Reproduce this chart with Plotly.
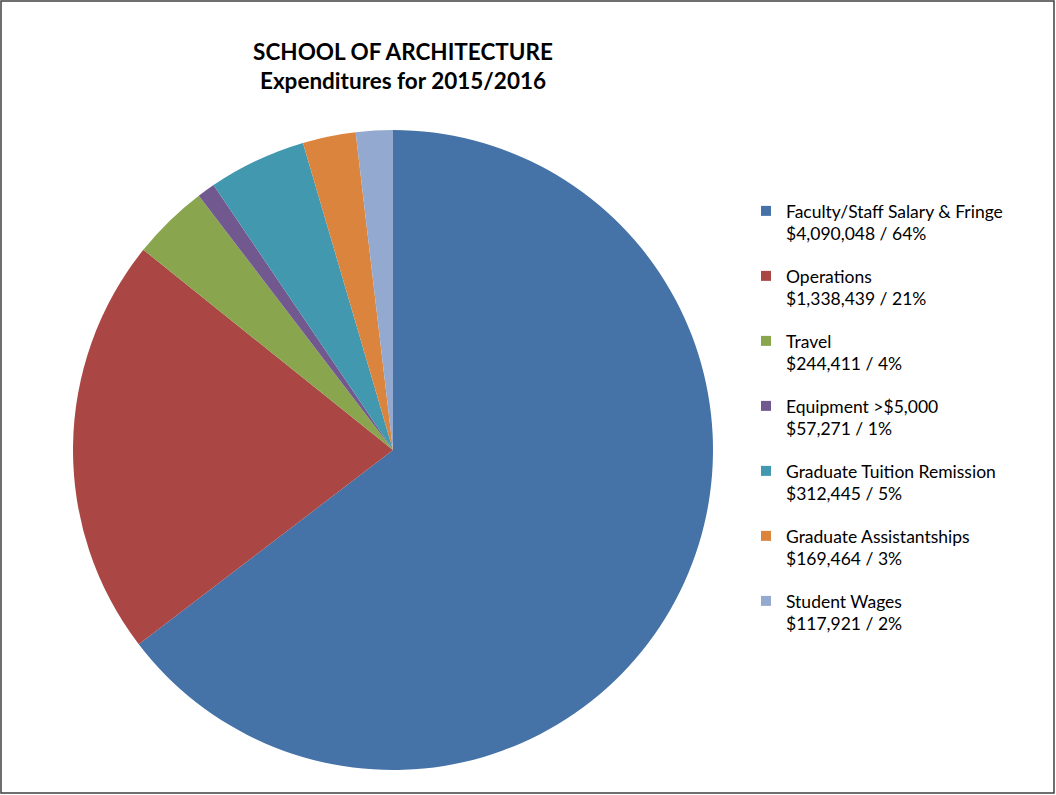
import plotly.graph_objects as go

categories = ["Faculty/Staff Salary & Fringe", "Operations", "Travel", "Equipment >$5,000",
              "Graduate Tuition Remission", "Graduate Assistantships", "Student Wages"]
values = [4090048, 1338439, 244411, 57271, 312445, 169464, 117921]
percents = ["64%", "21%", "4%", "1%", "5%", "3%", "2%"]
colors = ["#4572A7", "#AA4643", "#89A54E", "#71588F", "#4198AF", "#DB843D", "#93A9CF"]

labels = [f"{c}<br>${v:,} / {p}" for c, v, p in zip(categories, values, percents)]

W, H = 1056, 795
fig = go.Figure()
fig.add_trace(go.Pie(
    labels=categories, values=values, sort=False, direction="clockwise", rotation=0,
    marker=dict(colors=colors, line=dict(width=0)),
    textinfo="none", hoverinfo="label+value+percent", showlegend=False,
    domain=dict(x=[73 / W, 713 / W], y=[1 - 770 / H, 1 - 130 / H]),
))
# legend entries (one group per category so the group gap spaces them)
for lab, col in zip(labels, colors):
    fig.add_trace(go.Scatter(
        x=[None], y=[None], mode="markers", name=lab, legendgroup=lab,
        marker=dict(symbol="square", size=10, color=col), hoverinfo="skip",
    ))

fig.update_layout(
    width=W, height=H, margin=dict(l=0, r=0, t=0, b=0),
    paper_bgcolor="white", plot_bgcolor="white",
    font=dict(family="Lato, Open Sans, sans-serif", color="black"),
    xaxis=dict(visible=False), yaxis=dict(visible=False),
    title=dict(text="<b>SCHOOL OF ARCHITECTURE<br>Expenditures for 2015/2016</b>",
               x=403 / W, xanchor="center", y=1 - 60 / H, yanchor="top",
               font=dict(size=22.5, family="Lato, sans-serif", color="black")),
    legend=dict(x=746 / W, xanchor="left", y=1 - 193 / H, yanchor="top",
                valign="top", tracegroupgap=16.5,
                font=dict(size=17.5, family="Lato, sans-serif", color="black"),
                bgcolor="rgba(0,0,0,0)", itemclick=False, itemdoubleclick=False),
    shapes=[dict(type="rect", xref="paper", yref="paper",
                 x0=1 / W, x1=1054 / W, y0=1 - 793 / H, y1=1 - 1 / H,
                 line=dict(color="#404040", width=1.5))],
)

fig.write_html("out.html")
